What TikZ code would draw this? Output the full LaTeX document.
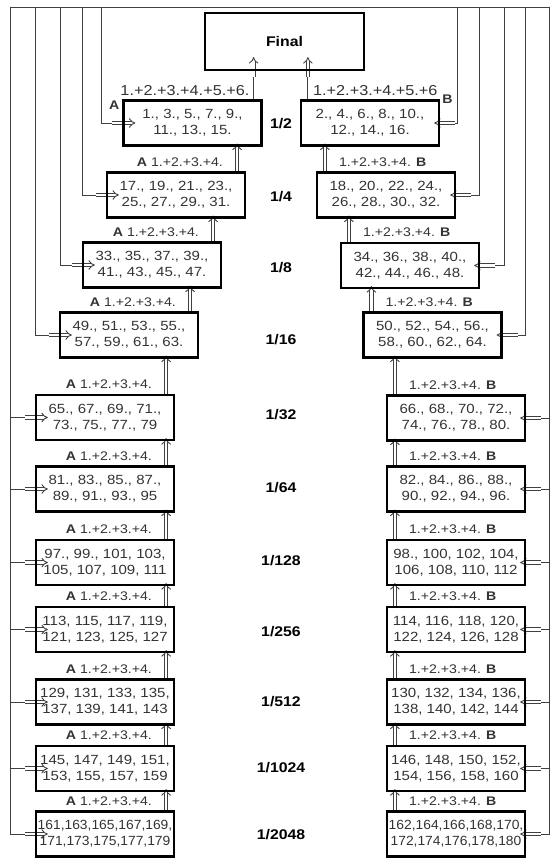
\documentclass[tikz,border=0pt]{standalone}
\usepackage{fontspec}
\setmainfont{Liberation Sans}[FakeStretch=1.13]
\newfontfamily\narrowfont{Liberation Sans}[FakeStretch=1.04]
\usetikzlibrary{arrows.meta, positioning, calc, backgrounds}

\begin{document}
\begin{tikzpicture}[
    x=1pt, y=-1pt,
    box/.style={draw, line width=2.2pt, minimum width=138pt, minimum height=45pt,
                align=center, inner sep=1pt, text=black!80,
                font=\fontsize{13.3}{16}\selectfont},
    finalbox/.style={draw, line width=2.2pt, minimum width=159pt, minimum height=57pt,
                font=\bfseries\fontsize{14}{16}\selectfont},
    lab/.style={inner sep=1pt, text=black!80, font=\fontsize{12.5}{14}\selectfont},
    toplab/.style={inner sep=1pt, text=black!80, font=\fontsize{14.4}{16}\selectfont},
    rowlab/.style={font=\bfseries\fontsize{14}{16}\selectfont},
    wire/.style={draw=black!75, line width=0.9pt},
    dbl/.style={draw=black!75, double, line width=0.9pt, double distance=2.4pt,
                -{Implies[length=6pt, width=11pt]}},
]
\useasboundingbox (0,0) rectangle (550,858);

% final and the two columns
\node[finalbox] (fin) at (284.5,41.5) {Final};

\node[box] (a2) at (192.5,123) {1., 3., 5., 7., 9.,\\11., 13., 15.};
\node[box] (b2) at (370,123) {2., 4., 6., 8., 10.,\\12., 14., 16.};
\node[box] (a4) at (176,195) {17., 19., 21., 23.,\\25., 27., 29., 31.};
\node[box] (b4) at (386,195) {18., 20., 22., 24.,\\26., 28., 30., 32.};
\node[box] (a8) at (152,265) {33., 35., 37., 39.,\\41., 43., 45., 47.};
\node[box] (b8) at (410,265.5) {34., 36., 38., 40.,\\42., 44., 46., 48.};
\node[box] (a16) at (129,335) {49., 51., 53., 55.,\\57., 59., 61., 63.};
\node[box] (b16) at (432.5,335) {50., 52., 54., 56.,\\58., 60., 62., 64.};
\node[box] (a32) at (105,417.5) {65., 67., 69., 71.,\\73., 75., 77., 79};
\node[box] (b32) at (456,418) {66., 68., 70., 72.,\\74., 76., 78., 80.};
\node[box] (a64) at (105,489) {81., 83., 85., 87.,\\89., 91., 93., 95};
\node[box] (b64) at (456,489) {82., 84., 86., 88.,\\90., 92., 94., 96.};
\node[box] (a128) at (105,562.5) {97., 99., 101, 103,\\105, 107, 109, 111};
\node[box] (b128) at (456,562.5) {98., 100, 102, 104,\\106, 108, 110, 112};
\node[box] (a256) at (105,629.5) {113, 115, 117, 119,\\121, 123, 125, 127};
\node[box] (b256) at (456,629.5) {114, 116, 118, 120,\\122, 124, 126, 128};
\node[box] (a512) at (105,702) {129, 131, 133, 135,\\137, 139, 141, 143};
\node[box] (b512) at (456,702) {130, 132, 134, 136,\\138, 140, 142, 144};
\node[box] (a1024) at (105,768.5) {145, 147, 149, 151,\\153, 155, 157, 159};
\node[box] (b1024) at (456,768.5) {146, 148, 150, 152,\\154, 156, 158, 160};
\node[box, font=\narrowfont\fontsize{13.3}{16}\selectfont] (a2048) at (105,834)
     {161,163,165,167,169,\\171,173,175,177,179};
\node[box, font=\narrowfont\fontsize{13.3}{16}\selectfont] (b2048) at (456,834)
     {162,164,166,168,170,\\172,174,176,178,180};

% fractions in the middle
\node[rowlab] (r2) at (281,124) {1/2};
\node[rowlab] (r4) at (281,197) {1/4};
\node[rowlab] (r8) at (281,268) {1/8};
\node[rowlab] (r16) at (281,340) {1/16};
\node[rowlab] (r32) at (281,415) {1/32};
\node[rowlab] (r64) at (281,488) {1/64};
\node[rowlab] (r128) at (281,561) {1/128};
\node[rowlab] (r256) at (281,632) {1/256};
\node[rowlab] (r512) at (281,702) {1/512};
\node[rowlab] (r1024) at (281,768) {1/1024};
\node[rowlab] (r2048) at (281,835) {1/2048};

% labels
\node[toplab, above left=3pt and 12pt of a2.north east] (sa) {1.+2.+3.+4.+5.+6.};
\node[toplab, above right=3pt and 12pt of b2.north west] (sb) {1.+2.+3.+4.+5.+6};
\node[lab, below left=0pt and 2pt of a2.north west] (ka) {\textbf{A}};
\node[lab, right=1pt of b2.north east] (kb) {\textbf{B}};
\foreach \n in {4,8,16,32,64,128,256,512,1024,2048} {
  \node[lab, above left=4pt and 22pt of a\n.north east] (la\n) {\textbf{A} 1.+2.+3.+4.};
  \node[lab, above right=4pt and 22pt of b\n.north west] (lb\n) {1.+2.+3.+4. \textbf{B}};
}

% feed lines from the top
\coordinate (tl) at (10,7);
\coordinate (tr) at (549,7);
\coordinate (fa2) at (101,7);
\coordinate (fa4) at (82,7);
\coordinate (fa8) at (60,7);
\coordinate (fa16) at (35,7);
\coordinate (fb2) at (457,7);
\coordinate (fb4) at (479,7);
\coordinate (fb8) at (504,7);
\coordinate (fb16) at (525,7);

\begin{scope}[on background layer]
\draw[wire] (tl) -- (tr);

\foreach \f/\b in {fa2/a2, fa4/a4, fa8/a8, fa16/a16, tl/a32, tl/a64, tl/a128,
                   tl/a256, tl/a512, tl/a1024, tl/a2048} {
  \draw[wire] (\f) |- ([xshift=-10pt]\b.west);
  \draw[dbl] ([xshift=-10pt]\b.west) -- ([xshift=13pt]\b.west);
}
\foreach \f/\b in {fb2/b2, fb4/b4, fb8/b8, fb16/b16, tr/b32, tr/b64, tr/b128,
                   tr/b256, tr/b512, tr/b1024, tr/b2048} {
  \draw[wire] (\f) |- ([xshift=15pt]\b.east);
  \draw[dbl] ([xshift=15pt]\b.east) -- ([xshift=-6pt]\b.east);
}

% upward merges
\foreach \u/\l in {a2/a4, a4/a8, a8/a16, a16/a32, a32/a64, a64/a128,
                   a128/a256, a256/a512, a512/a1024, a1024/a2048} {
  \path ([xshift=-9pt]\l.north east) coordinate (p);
  \draw[dbl, shorten >=-3pt] (p) -- (p |- \u.south);
}
\foreach \u/\l in {b2/b4, b4/b8, b8/b16, b16/b32, b32/b64, b64/b128,
                   b128/b256, b256/b512, b512/b1024, b1024/b2048} {
  \path ([xshift=9pt]\l.north west) coordinate (p);
  \draw[dbl, shorten >=-3pt] (p) -- (p |- \u.south);
}

% into final
\path ([xshift=-9pt]a2.north east) coordinate (pa);
\draw[wire] (pa) -- ++(0pt,22pt) coordinate (pa1);
\draw[dbl, shorten >=-14pt] (pa1) -- (pa1 |- fin.south);
\path ([xshift=8pt]b2.north west) coordinate (pb);
\draw[wire] (pb) -- ++(0pt,22pt) coordinate (pb1);
\draw[dbl, shorten >=-14pt] (pb1) -- (pb1 |- fin.south);
\end{scope}
\end{tikzpicture}
\end{document}
